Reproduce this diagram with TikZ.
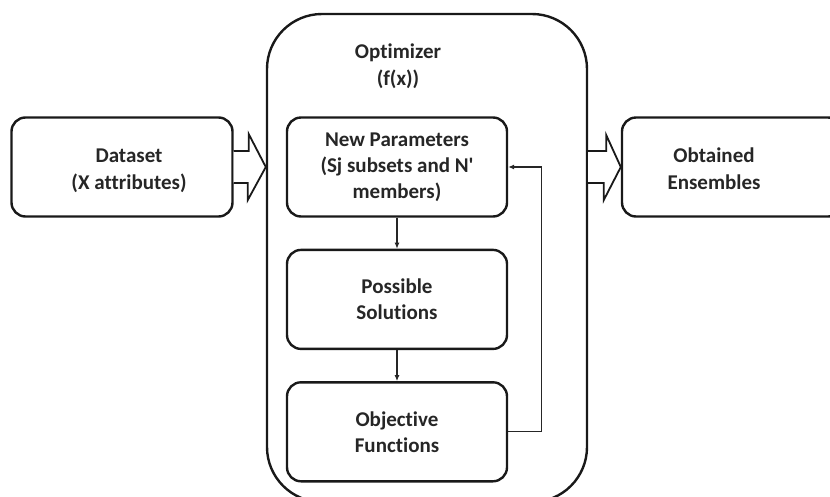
\documentclass[tikz,border=0pt]{standalone}
\usepackage{fontspec}
\setmainfont{Carlito}[Ligatures=CommonOff]
\usetikzlibrary{arrows.meta,positioning}

\begin{document}
\begin{tikzpicture}[x=1pt, y=-1pt, node distance=31pt,
    box/.style={rectangle, rounded corners=14pt, draw=black!90, line width=2.4pt,
        minimum width=220pt, minimum height=99pt, align=center,
        font=\bfseries\fontsize{21}{26}\selectfont, text=black!85},
    label/.style={align=center, font=\bfseries\fontsize{21}{27}\selectfont, text=black!85},
    blockarrow/.style={draw=black!90, fill=white, line width=1.8pt, line join=miter},
    flow/.style={draw=black!85, line width=1.1pt, -{Latex[length=6pt,width=5pt]}}]
    \useasboundingbox (0,0) rectangle (830,496);

    % Optimizer (runs off the bottom)
    \node[rectangle, rounded corners=55pt, draw=black!90, line width=2.4pt,
        minimum width=320pt, minimum height=488pt] (optimizer) at (427,258) {};
    \node[label] (opttitle) at (398,66) {Optimizer\\(f(x))};

    % Inner loop
    \node[box] (newparams) at (397,167) {New Parameters\\(Sj subsets and N\textquotesingle\\members)};
    \node[box, below=31pt of newparams] (possible) {Possible\\Solutions};
    \node[box, below=31pt of possible] (objective) {Objective\\Functions};

    % Input and output
    \node[box, minimum width=221pt] (dataset) at (122,167) {};
    \node[label] (datasetlbl) at (129,171) {Dataset\\(X attributes)};
    \node[box] (obtained) at (732,167) {};
    \node[label] (obtainedlbl) at (714,169) {Obtained\\Ensembles};

    % Block arrows
    \path[blockarrow] ([yshift=16pt]dataset.east) -- ++(15,0) -- ++(0,-17)
        -- (optimizer.west |- dataset.east) -- ++(-18,33) -- ++(0,-17)
        -- ([yshift=-16pt]dataset.east);
    \path[blockarrow] ([yshift=16pt]optimizer.east |- obtained.west) -- ++(18,0) -- ++(0,-16)
        -- (obtained.west) -- ++(-17,33) -- ++(0,-17)
        -- ([yshift=-16pt]optimizer.east |- obtained.west);

    % Arrows
    \draw[flow] (newparams) -- (possible);
    \draw[flow] (possible) -- (objective);
    \draw[flow] (objective.east) -- ++(33,0) |- (newparams.east);
\end{tikzpicture}
\end{document}
